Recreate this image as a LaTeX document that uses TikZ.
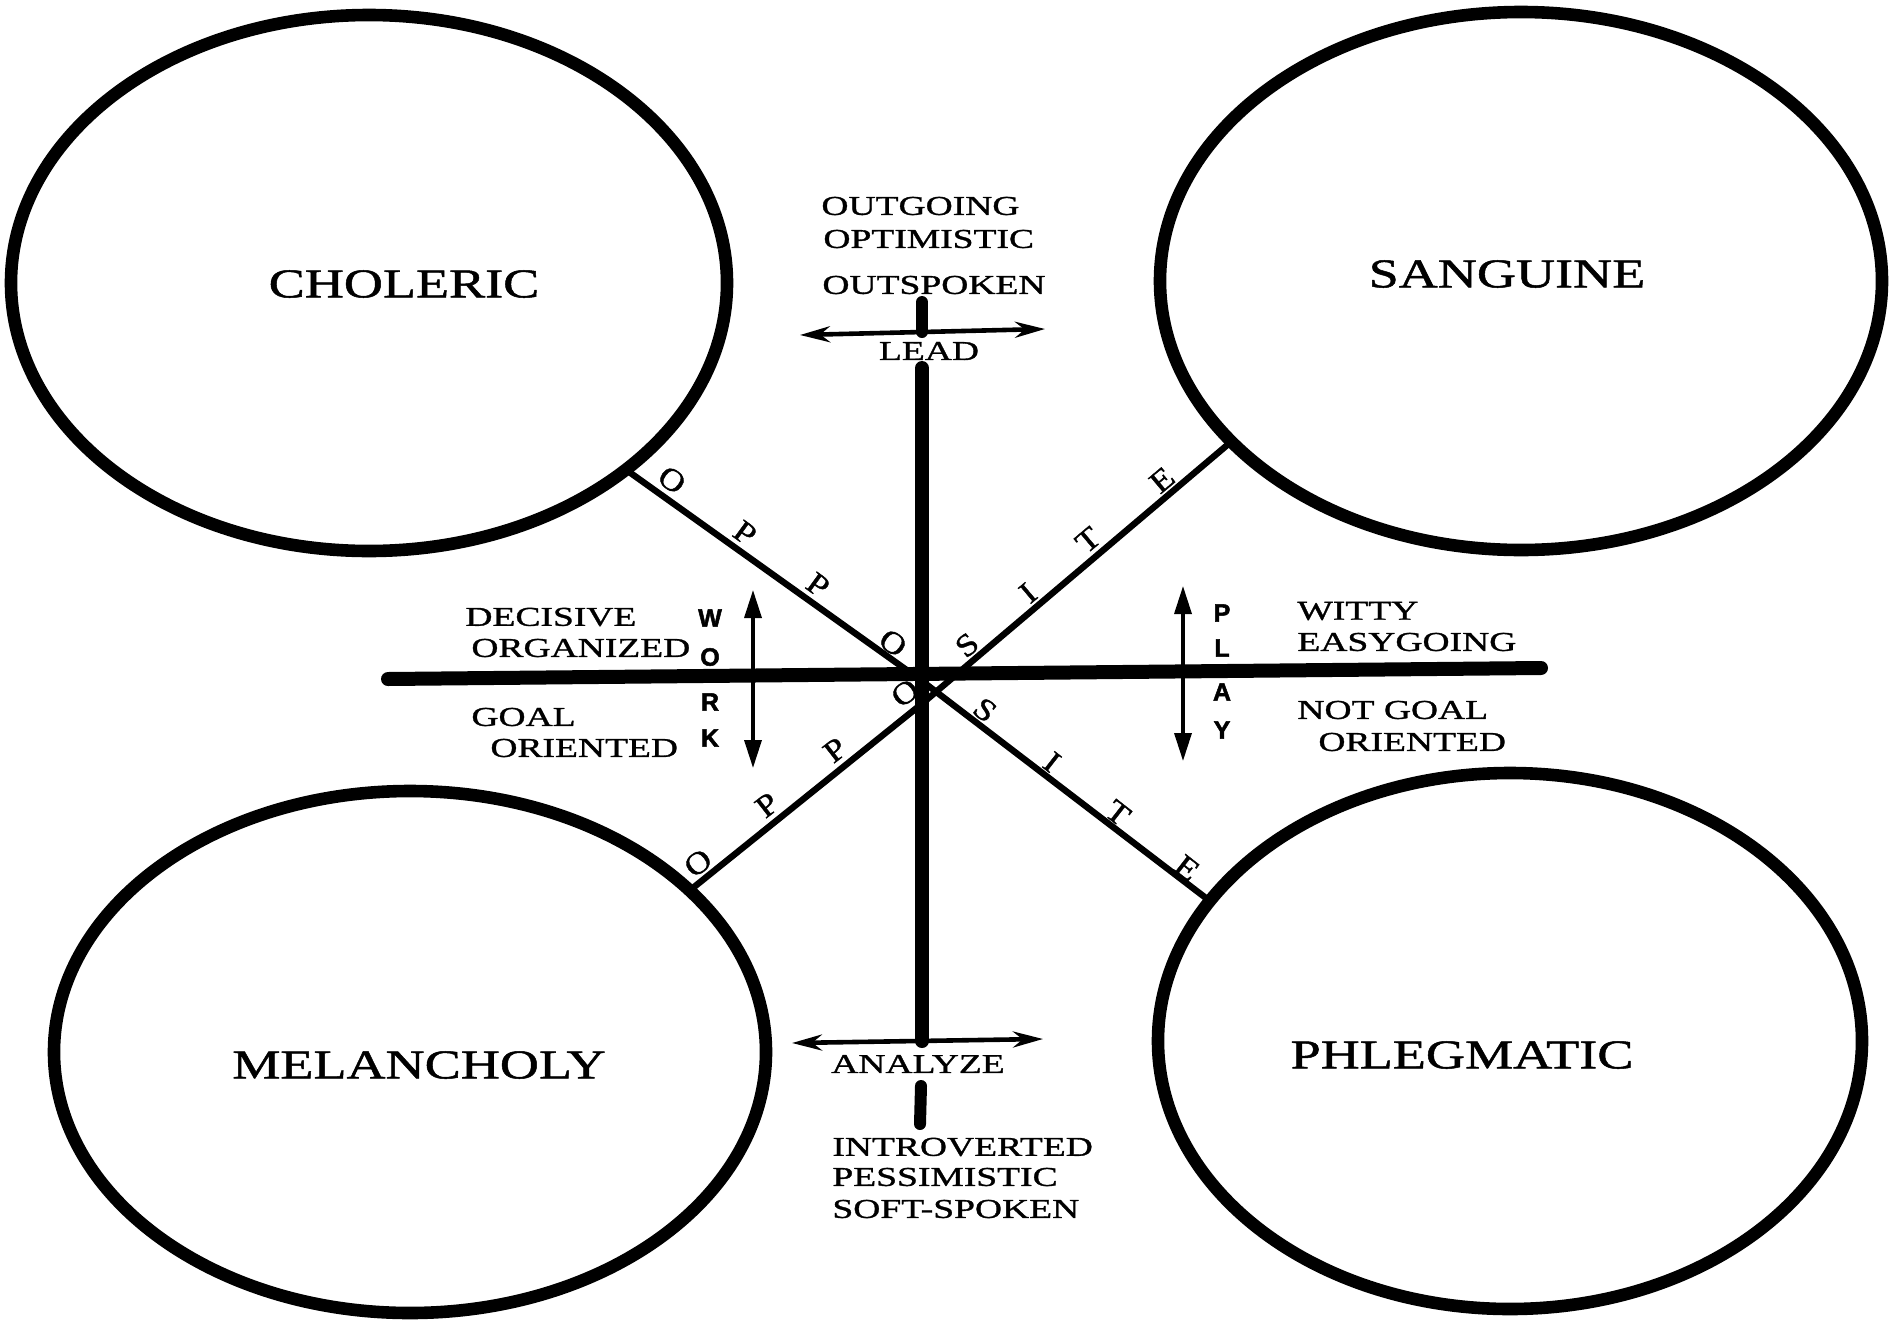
\documentclass[tikz,border=0pt]{standalone}
\usepackage{fontspec}
\setmainfont{Liberation Serif}
\newfontfamily\titlefont[FakeStretch=1.32,FakeBold=1.2]{Liberation Serif}
\newfontfamily\traitfont[FakeStretch=1.38,FakeBold=1.2]{Liberation Serif}
\newfontfamily\oppfont[FakeStretch=1.15,FakeBold=1.2]{Liberation Serif}
\newfontfamily\sansbold[FakeBold=2]{Liberation Sans Bold}
\usetikzlibrary{shapes.geometric,arrows.meta}
\begin{document}
\begin{tikzpicture}[x=0.5pt,y=-0.5pt,
  temper/.style={ellipse, draw, line width=6.3pt, inner sep=0pt, outer sep=0pt},
  title/.style={font=\titlefont\fontsize{20.5}{24}\selectfont, inner sep=0pt},
  trait/.style={font=\traitfont\fontsize{13.6}{16}\selectfont, inner sep=0pt, anchor=west},
  ctrait/.style={font=\traitfont\fontsize{13.6}{16}\selectfont, inner sep=0pt},
  vlet/.style={font=\sansbold\fontsize{12.5}{13}\selectfont, inner sep=0pt},
  opp/.style={font=\oppfont\fontsize{15.5}{17}\selectfont, inner sep=0pt},
  axisline/.style={line width=7pt, line cap=round},
  diagline/.style={line width=3.2pt},
  harrow/.style={line width=2.3pt, {Stealth[length=15pt,width=8pt]}-{Stealth[length=15pt,width=8pt]}},
  varrow/.style={line width=1.7pt, {Triangle[length=14pt,width=8.5pt]}-{Triangle[length=14pt,width=8.5pt]}},
]
\useasboundingbox (0,0) rectangle (1891,1323);

% temperament ellipses
\node[temper, minimum width=358pt, minimum height=268pt] (chol)  at (369,283) {};
\node[temper, minimum width=361pt, minimum height=269pt] (sang)  at (1521,281) {};
\node[temper, minimum width=356pt, minimum height=261pt] (mel)   at (410,1052) {};
\node[temper, minimum width=352pt, minimum height=268pt] (phleg) at (1510,1041) {};

\node[title] (cholT)  at (404,284)  {CHOLERIC};
\node[title] (sangT)  at (1507,274) {SANGUINE};
\node[title] (melT)   at (419,1065) {MELANCHOLY};
\node[title] (phlegT) at (1462,1055) {PHLEGMATIC};

% centre and axis end points
\coordinate (c1) at (922,681);
\coordinate (c2) at (924,702);
\coordinate (vtop) at (922,368);
\coordinate (vbot) at (922,1041);
\coordinate (hleft) at (388,679);
\coordinate (hright) at (1541,668);
\coordinate (leadL) at (800,335);
\coordinate (leadR) at (1045,329);
\coordinate (leadStubTop) at (922,302);
\coordinate (leadStubBot) at (922,332);
\coordinate (anaL) at (792,1043);
\coordinate (anaR) at (1043,1039);
\coordinate (anaStubTop) at (921,1086);
\coordinate (anaStubBot) at (920,1124);
\coordinate (workTop) at (753,590);
\coordinate (workBot) at (753,768);
\coordinate (playTop) at (1183,586);
\coordinate (playBot) at (1183,761);

% diagonals
\draw[diagline] (chol.-36.1) -- (c1) -- (phleg.155.1);
\draw[diagline] (sang.209.7) -- (c2) -- (mel.30.8);

% axes
\draw[axisline] (vtop) -- (vbot);
\draw[axisline] (hleft) -- (hright);
\draw[line width=6pt, line cap=round] (leadStubTop) -- (leadStubBot);
\draw[line width=6pt, line cap=round] (anaStubTop) -- (anaStubBot);

% arrows
\draw[harrow] (leadL) -- (leadR);
\draw[harrow] (anaL) -- (anaR);
\draw[varrow] (workTop) -- (workBot);
\draw[varrow] (playTop) -- (playBot);

% top labels
\node[trait] (t1) at (821,206) {OUTGOING};
\node[trait] (t2) at (823,239) {OPTIMISTIC};
\node[trait] (t3) at (822,285) {OUTSPOKEN};
\node[ctrait] (lead) at (929,351) {LEAD};

% bottom labels
\node[ctrait] (ana) at (918,1064) {ANALYZE};
\node[trait] (b1) at (832,1147) {INTROVERTED};
\node[trait] (b2) at (832,1177) {PESSIMISTIC};
\node[trait] (b3) at (832,1209) {SOFT-SPOKEN};

% left labels
\node[trait] (l1) at (465,617) {DECISIVE};
\node[trait] (l2) at (471,648) {ORGANIZED};
\node[trait] (l3) at (471,717) {GOAL};
\node[trait] (l4) at (490,748) {ORIENTED};

% right labels
\node[trait] (r1) at (1297,611) {WITTY};
\node[trait] (r2) at (1297,642) {EASYGOING};
\node[trait] (r3) at (1297,710) {NOT GOAL};
\node[trait] (r4) at (1318,742) {ORIENTED};

% WORK / PLAY
\node[vlet] (w1) at (710,618) {W};
\node[vlet] (w2) at (710,657) {O};
\node[vlet] (w3) at (710,702) {R};
\node[vlet] (w4) at (710,738) {K};
\node[vlet] (p1) at (1222,613) {P};
\node[vlet] (p2) at (1222,648) {L};
\node[vlet] (p3) at (1222,692) {A};
\node[vlet] (p4) at (1222,730) {Y};

% OPPOSITE letters
\node[opp, rotate=-36] (nw1) at (672,480) {O};
\node[opp, rotate=-36] (nw2) at (745,533) {P};
\node[opp, rotate=-36] (nw3) at (818,585) {P};
\node[opp, rotate=-36] (nw4) at (893,643) {O};
\node[opp, rotate=40] (ne1) at (967,645) {S};
\node[opp, rotate=40] (ne2) at (1028,593) {I};
\node[opp, rotate=40] (ne3) at (1088,540) {T};
\node[opp, rotate=40] (ne4) at (1162,480) {E};
\node[opp, rotate=38] (sw1) at (698,863) {O};
\node[opp, rotate=38] (sw2) at (767,805) {P};
\node[opp, rotate=38] (sw3) at (835,750) {P};
\node[opp, rotate=38] (sw4) at (905,693) {O};
\node[opp, rotate=-38] (se1) at (985,710) {S};
\node[opp, rotate=-38] (se2) at (1052,762) {I};
\node[opp, rotate=-38] (se3) at (1118,813) {T};
\node[opp, rotate=-38] (se4) at (1187,868) {E};
\end{tikzpicture}
\end{document}
